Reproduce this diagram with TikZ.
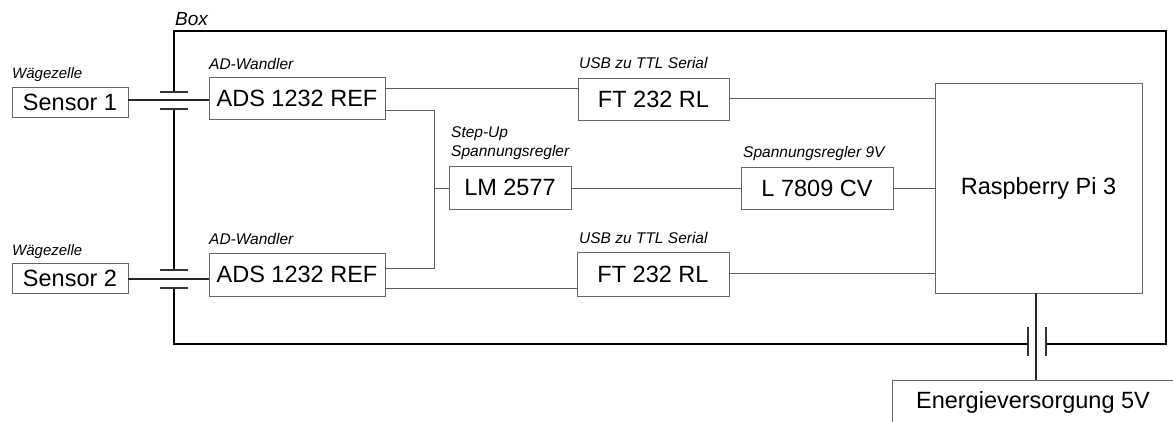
\documentclass[tikz,border=0pt]{standalone}
\usepackage{fontspec}
\setmainfont{Liberation Sans}
\begin{document}
\begin{tikzpicture}[x=1pt,y=-1pt,
  blk/.style={draw=black!60, line width=0.9pt, inner sep=0pt, font=\fontsize{23.5}{26}\selectfont},
  lbl/.style={anchor=base west, inner sep=0pt, font=\itshape\fontsize{15.5}{19}\selectfont},
  wire/.style={draw=black!65, line width=1pt},
  dwire/.style={draw=black!85, line width=1.2pt},
  frame/.style={draw=black, line width=2.2pt, line cap=rect},
  gapmark/.style={draw=black!80, line width=1.1pt}]
\useasboundingbox (0,0) rectangle (1173,421);
\clip (0,0) rectangle (1173,421);
% blocks
\node[blk, minimum width=116pt, minimum height=30pt] (sens1) at (70,102) {Sensor 1};
\node[blk, minimum width=116pt, minimum height=30pt] (sens2) at (70,278) {Sensor 2};
\node[blk, minimum width=176pt, minimum height=42pt] (ads1) at (297,98) {ADS 1232 REF};
\node[blk, minimum width=176pt, minimum height=43pt] (ads2) at (297,274.5) {ADS 1232 REF};
\node[blk, minimum width=151pt, minimum height=42pt] (ft1) at (653.5,99) {FT 232 RL};
\node[blk, minimum width=152pt, minimum height=44pt] (ft2) at (653,274) {FT 232 RL};
\node[blk, minimum width=122pt, minimum height=43pt] (lm) at (510,187.5) {LM 2577};
\node[blk, minimum width=152pt, minimum height=42pt] (l78) at (817,188) {L 7809 CV};
\node[blk, minimum width=207pt, minimum height=210pt] (pi) at (1038.5,188) {Raspberry Pi 3};
\node[blk, minimum width=282pt, minimum height=44pt] (en) at (1033,402) {Energieversorgung 5V};
% labels
\node[lbl, font=\itshape\fontsize{19}{22}\selectfont] (lbox) at (175,25) {Box};
\node[lbl, font=\itshape\fontsize{15}{18}\selectfont] (lw1) at (12,78) {Wägezelle};
\node[lbl, font=\itshape\fontsize{15}{18}\selectfont] (lw2) at (12,255) {Wägezelle};
\node[lbl] (la1) at (209,69) {AD-Wandler};
\node[lbl] (la2) at (209,244) {AD-Wandler};
\node[lbl] (lu1) at (579,68) {USB zu TTL Serial};
\node[lbl] (lu2) at (579,243) {USB zu TTL Serial};
\node[lbl, align=left] (lst) at (451,156) {Step-Up\\[-0.5pt]Spannungsregler};
\node[lbl] (lsp) at (743,157) {Spannungsregler 9V};
% frame (Box) with gaps
\coordinate (tl) at (174,31);
\coordinate (br) at (1166,344);
\draw[frame] (174,92) -- (tl) -- (1166,31) -- (br) -- (1046,344);
\draw[frame] (1028,344) -- (174,344) -- (174,288);
\draw[frame] (174,270) -- (174,109);
% gap marks
\draw[gapmark] (160,92) -- (188,92) (160,109) -- (188,109);
\draw[gapmark] (160,270) -- (188,270) (160,288) -- (188,288);
\draw[gapmark] (1028,327) -- (1028,356) (1046,327) -- (1046,356);
% connections
\draw[dwire] (sens1.east |- 0,100) -- (ads1.west |- 0,100);
\draw[dwire] (sens2.east |- 0,279) -- (ads2.west |- 0,279);
\draw[wire] (ads1.east |- 0,88) -- (ft1.west |- 0,88);
\draw[wire] (ads1.east |- 0,110) -- (434,110) -- (434,268) -- (ads2.east |- 0,268);
\draw[wire] (434,188) -- (lm.west |- 0,188);
\draw[wire] (lm.east |- 0,188) -- (l78.west |- 0,188);
\draw[wire] (l78.east |- 0,188) -- (pi.west |- 0,188);
\draw[wire] (ft1.east |- 0,98) -- (pi.west |- 0,98);
\draw[wire] (ads2.east |- 0,288) -- (ft2.west |- 0,288);
\draw[wire] (ft2.east |- 0,273) -- (pi.west |- 0,273);
\draw[dwire] (pi.south -| 1036,0) -- (en.north -| 1036,0);
\end{tikzpicture}
\end{document}
